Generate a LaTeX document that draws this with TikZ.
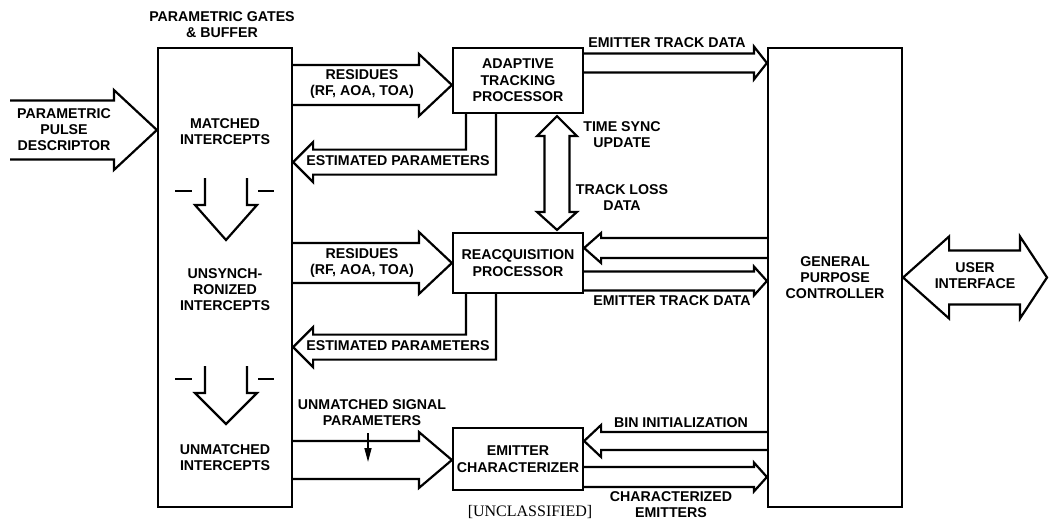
\documentclass[tikz,border=0pt]{standalone}
\usepackage{fontspec}
\setmainfont{Liberation Sans}
\newfontfamily\serifx{Liberation Serif}
\usetikzlibrary{calc,arrows.meta}
% right-pointing hollow block arrow: #1 tail point, #2 tip point, #3 half shaft, #4 half head, #5 head length
\newcommand{\rarr}[5]{\draw[barrow] let \p1=(#1), \p2=(#2) in (\x1,\y2+#3) -- (\x2-#5,\y2+#3) -- (\x2-#5,\y2+#4) -- (\x2,\y2) -- (\x2-#5,\y2-#4) -- (\x2-#5,\y2-#3) -- (\x1,\y2-#3);}
% left-pointing hollow block arrow
\newcommand{\larr}[5]{\draw[barrow] let \p1=(#1), \p2=(#2) in (\x1,\y2+#3) -- (\x2+#5,\y2+#3) -- (\x2+#5,\y2+#4) -- (\x2,\y2) -- (\x2+#5,\y2-#4) -- (\x2+#5,\y2-#3) -- (\x1,\y2-#3);}
% bent "estimated parameters" arrow from box #1, centre offset #2 below its bottom
\newcommand{\estarr}[2]{\draw[barrow] ($(#1.south west)+(44,0)$) -- ($(#1.south west)+(44,#2+12.5)$) -- ($(buf.east |- #1.south)+(20,#2+12.5)$) -- ($(buf.east |- #1.south)+(20,#2+20)$) -- ($(buf.east |- #1.south)+(0,#2)$) -- ($(buf.east |- #1.south)+(20,#2-20)$) -- ($(buf.east |- #1.south)+(20,#2-12.5)$) -- ($(#1.south west)+(14,#2-12.5)$) -- ($(#1.south west)+(14,0)$);}
% hollow down arrow inside the buffer, #1 = top coordinate name
\newcommand{\downarr}[2]{\draw[barrow] ($(#1)+(-21,0)$) -- ($(#1)+(-21,27)$) -- ($(#1)+(-31,27)$) -- ($(#1)+(0,#2)$) -- ($(#1)+(31,27)$) -- ($(#1)+(21,27)$) -- ($(#1)+(21,0)$);
 \draw[barrow] ($(#1)+(-51,13)$) -- ($(#1)+(-34,13)$);
 \draw[barrow] ($(#1)+(32,13)$) -- ($(#1)+(48,13)$);}
\begin{document}
\begin{tikzpicture}[x=1pt,y=-1pt,
  lbl/.style={align=center, font=\bfseries\fontsize{14.2}{16}\selectfont, inner sep=0pt},
  box/.style={draw, line width=2.2pt, inner sep=0pt, align=center, font=\bfseries\fontsize{14.2}{16.5}\selectfont},
  barrow/.style={draw, line width=2.2pt, line join=miter},
  ]
\useasboundingbox (0,0) rectangle (1049,524);
\fill[white] (0,0) rectangle (1049,524);

% blocks
\node[box, minimum width=134, minimum height=459] (buf) at (225,277.5) {};
\node[box, minimum width=130, minimum height=65] (atp) at (518,80.5) {ADAPTIVE\\TRACKING\\PROCESSOR};
\node[box, minimum width=130, minimum height=60] (reaq) at (518,263) {REACQUISITION\\PROCESSOR};
\node[box, minimum width=130, minimum height=62] (ec) at (518,459) {EMITTER\\CHARACTERIZER};
\node[box, minimum width=134, minimum height=459] (gpc) at (835,277.5) {};

% texts in and around blocks
\node[lbl] (buft) at (222,25) {PARAMETRIC GATES\\\& BUFFER};
\node[lbl] (mat) at (225,132) {MATCHED\\INTERCEPTS};
\node[lbl] (uns) at (225,290) {UNSYNCH-\\RONIZED\\INTERCEPTS};
\node[lbl] (unm) at (225,458) {UNMATCHED\\INTERCEPTS};
\node[lbl] (gpct) at (835,278) {GENERAL\\PURPOSE\\CONTROLLER};

% input arrow
\coordinate (inT) at (10,130);
\rarr{inT}{buf.west |- 0,130}{29.5pt}{40pt}{43pt}
\node[lbl] (ppd) at (64,130) {PARAMETRIC\\PULSE\\DESCRIPTOR};

% residues arrows
\rarr{buf.east}{atp.west |- 0,85}{20pt}{31pt}{33pt}
\node[lbl] (res1) at (362,84) {RESIDUES\\(RF, AOA, TOA)};
\rarr{buf.east}{reaq.west |- 0,263}{20pt}{31pt}{33pt}
\node[lbl] (res2) at (362,263) {RESIDUES\\(RF, AOA, TOA)};

% unmatched signal parameters
\rarr{buf.east}{ec.west |- 0,460}{19pt}{28pt}{33pt}
\node[lbl] (usp) at (372,413) {UNMATCHED SIGNAL\\PARAMETERS};
\coordinate (sa1) at (368,433);
\coordinate (sa2) at (368,462);
\draw[line width=1.6pt, -{Triangle[width=7pt,length=14pt]}] (sa1) -- (sa2);

% estimated parameters
\estarr{atp}{48}
\node[lbl] (est1) at (398,161) {ESTIMATED PARAMETERS};
\estarr{reaq}{53}
\node[lbl] (est2) at (398,346) {ESTIMATED PARAMETERS};

% to / from controller
\rarr{atp.east}{gpc.west |- 0,63}{9.5pt}{16.5pt}{13pt}
\node[lbl] (etd1) at (667,43) {EMITTER TRACK DATA};
\larr{gpc.west}{reaq.east |- 0,248}{10pt}{15pt}{17pt}
\rarr{reaq.east}{gpc.west |- 0,281}{9.5pt}{14.5pt}{13pt}
\node[lbl] (etd2) at (672,301) {EMITTER TRACK DATA};
\larr{gpc.west}{ec.east |- 0,441}{9pt}{16pt}{17pt}
\node[lbl] (bin) at (681,423) {BIN INITIALIZATION};
\rarr{ec.east}{gpc.west |- 0,477}{10pt}{14.5pt}{13pt}
\node[lbl] (che) at (671,505) {CHARACTERIZED\\EMITTERS};

% time sync / track loss double arrow
\coordinate (ts1) at ($(atp.south)+(39,2)$);
\coordinate (ts2) at ($(reaq.north)+(39,-2)$);
\draw[barrow] let \p1=(ts1), \p2=(ts2) in (\x1,\y1) -- (\x1+20pt,\y1-20pt) -- (\x1+12.5pt,\y1-20pt) -- (\x1+12.5pt,\y2+18pt) -- (\x1+20pt,\y2+18pt) -- (\x1,\y2) -- (\x1-20pt,\y2+18pt) -- (\x1-12.5pt,\y2+18pt) -- (\x1-12.5pt,\y1-20pt) -- (\x1-20pt,\y1-20pt) -- cycle;
\node[lbl] (tsu) at (622,135) {TIME SYNC\\UPDATE};
\node[lbl] (tld) at (622,198) {TRACK LOSS\\DATA};

% user interface double arrow
\coordinate (uiR) at (1047,277.5);
\draw[barrow] let \p1=(gpc.east), \p2=(uiR) in (\x1,\y1) -- (\x1+46pt,\y1+41pt) -- (\x1+46pt,\y1+27pt) -- (\x2-27pt,\y1+27pt) -- (\x2-27pt,\y1+41pt) -- (\x2,\y1) -- (\x2-27pt,\y1-41pt) -- (\x2-27pt,\y1-27pt) -- (\x1+46pt,\y1-27pt) -- (\x1+46pt,\y1-41pt) -- cycle;
\node[lbl] (ui) at (975,276) {USER\\INTERFACE};

% internal flow arrows in buffer
\coordinate (da1) at (226,178);
\downarr{da1}{62}
\coordinate (da2) at (226,366);
\downarr{da2}{58}

% classification marking
\node[font=\serifx\fontsize{16}{16}\selectfont, inner sep=0pt] (ucl) at (530,512) {[UNCLASSIFIED]};
\end{tikzpicture}
\end{document}
